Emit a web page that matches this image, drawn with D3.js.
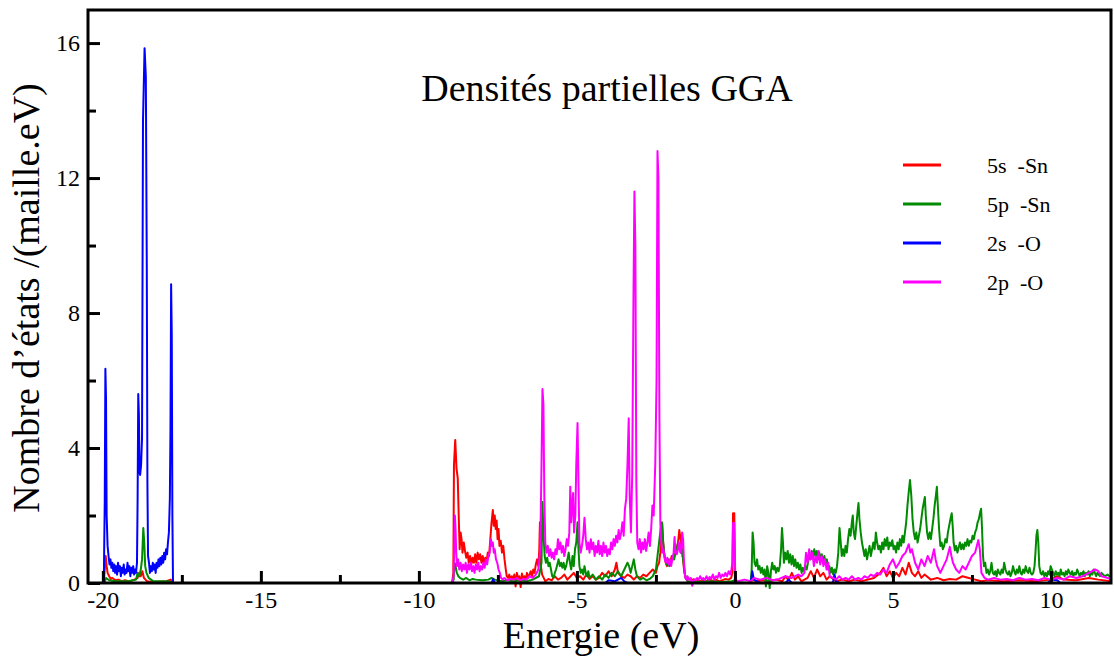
<!DOCTYPE html>
<html>
<head>
<meta charset="utf-8">
<title>Densités partielles GGA</title>
<style>
  body { margin: 0; background: #fff; }
  text { font-family: "Liberation Serif", "Times New Roman", serif; fill: #000; }
</style>
</head>
<body>
<script src="https://d3js.org/d3.v7.min.js"></script>
<svg width="1114" height="661" id="mainsvg"></svg>
<script>
// partial DOS, [energy (eV), states/(cell.eV)]
const dos5sSn = [
  [-20.45,0],[-19.97,0],[-19.94,0.4],[-19.91,0.8],[-19.88,0.5],[-19.85,0.3],[-19.80,0.2],[-19.75,0.12],[-19.70,0.15],[-19.60,0.08],
  [-19.50,0.1],[-19.40,0.05],[-19.30,0.08],[-19.20,0.05],[-19.10,0.07],[-19.00,0.1],[-18.90,0.15],[-18.85,0.3],[-18.80,0.2],[-18.75,0.35],
  [-18.70,0.15],[-18.65,0.1],[-18.60,0.05],[-18.40,0.03],[-18.00,0.05],[-17.85,0.1],[-17.80,0],
  [-8.95,0],[-8.91,0.3],[-8.89,3.5],[-8.85,4.24],[-8.81,3.4],[-8.77,3.1],[-8.74,2.0],[-8.71,1.0],[-8.68,1.5],[-8.65,1.3],
  [-8.62,0.9],[-8.58,1.2],[-8.54,0.95],[-8.50,0.75],[-8.46,0.9],[-8.42,0.6],[-8.38,0.8],[-8.34,0.55],[-8.30,0.75],[-8.26,0.6],
  [-8.22,0.85],[-8.18,0.6],[-8.14,0.9],[-8.10,0.7],[-8.06,0.85],[-8.02,0.6],[-7.98,0.8],[-7.94,0.55],[-7.90,0.75],[-7.86,0.6],
  [-7.82,0.9],[-7.78,0.8],[-7.74,1.3],[-7.70,1.8],[-7.66,2.16],[-7.63,1.7],[-7.60,2.0],[-7.57,1.6],[-7.54,1.85],[-7.51,1.3],
  [-7.48,1.6],[-7.45,1.1],[-7.41,1.25],[-7.37,0.9],[-7.33,1.1],[-7.29,0.7],[-7.25,0.4],[-7.22,0.2],[-7.18,0.15],[-7.14,0.25],
  [-7.10,0.1],[-7.06,0.2],[-7.02,0.12],[-6.98,0.25],[-6.94,-0.1],[-6.90,0.3],[-6.86,0.15],[-6.82,0.2],[-6.78,-0.12],[-6.74,0.28],
  [-6.70,0.12],[-6.66,0.2],[-6.62,0.1],[-6.58,0.3],[-6.54,0.15],[-6.50,0.25],[-6.46,0.35],[-6.42,0.2],[-6.38,0.4],[-6.34,0.3],
  [-6.30,0.55],[-6.26,0.7],[-6.22,0.5],[-6.19,1.0],[-6.17,1.8],[-6.14,0.5],[-6.10,0.25],[-6.05,0.15],[-6.00,0.05],[-5.90,0.12],
  [-5.80,0.08],[-5.70,0.2],[-5.60,0.1],[-5.50,0.15],[-5.40,0.25],[-5.30,0.1],[-5.20,0.2],[-5.10,0.3],[-5.00,0.15],[-4.90,0.2],
  [-4.80,0.1],[-4.70,0.25],[-4.60,0.12],[-4.50,0.2],[-4.40,0.1],[-4.30,0.15],[-4.20,0.3],[-4.10,0.2],[-4.00,0.35],[-3.90,0.2],
  [-3.80,0.4],[-3.75,0.6],[-3.70,0.3],[-3.60,0.2],[-3.50,0.15],[-3.40,0.25],[-3.30,0.2],[-3.20,0.1],[-3.10,0.2],[-3.00,0.15],
  [-2.90,0.25],[-2.80,0.2],[-2.70,0.3],[-2.60,0.4],[-2.50,0.3],[-2.45,0.5],[-2.40,0.6],[-2.36,0.9],[-2.33,1.5],[-2.30,1.78],
  [-2.27,1.2],[-2.23,0.8],[-2.19,0.6],[-2.15,0.5],[-2.10,0.7],[-2.05,0.6],[-2.00,0.8],[-1.95,0.7],[-1.90,0.9],[-1.85,1.0],
  [-1.80,1.2],[-1.76,1.57],[-1.72,1.3],[-1.68,1.0],[-1.64,0.7],[-1.60,0.3],[-1.55,0.15],[-1.50,0.1],[-1.40,0.12],[-1.30,0.08],
  [-1.20,0.1],[-1.10,0.05],[-1.00,0.08],[-0.90,0.05],[-0.80,0.1],[-0.70,0.06],[-0.60,0.1],[-0.50,0.05],[-0.40,0.08],[-0.30,0.12],
  [-0.20,0.1],[-0.12,0.15],[-0.08,0.3],[-0.06,2.07],[-0.02,2.07],[0.00,0.3],[0.04,0.05],[0.10,0],[0.50,0],[0.55,0.1],
  [0.70,0.05],[0.90,0.08],[1.10,0.05],[1.30,0.1],[1.50,0.05],[1.60,0.2],[1.70,0.08],[1.80,0.3],[1.90,0.1],[2.00,0.2],
  [2.10,0.05],[2.30,0.15],[2.40,0.35],[2.50,0.15],[2.60,0.4],[2.70,0.2],[2.80,0.3],[2.90,0.1],[3.00,0.2],[3.20,0.05],
  [3.40,0.1],[3.60,0.05],[3.80,0.1],[4.00,0.05],[4.20,0.1],[4.40,0.15],[4.60,0.3],[4.70,0.45],[4.80,0.2],[4.90,0.35],
  [5.00,0.15],[5.10,0.3],[5.20,0.2],[5.30,0.45],[5.40,0.25],[5.50,0.6],[5.60,0.3],[5.70,0.2],[5.80,0.35],[5.90,0.15],
  [6.00,0.25],[6.20,0.1],[6.40,0.15],[6.60,0.08],[6.80,0.12],[7.00,0.1],[7.20,0.2],[7.40,0.15],[7.60,0.1],[7.80,0.05],
  [8.00,0.08],[8.50,0.05],[9.00,0.08],[9.50,0.05],[10.00,0.1],[10.20,0.2],[10.40,0.1],[10.80,0.08],[11.20,0.15],[11.50,0.1],
  [11.90,0.05]
];

const dos5pSn = [
  [-20.45,0],[-19.95,0],[-19.90,0.15],[-19.80,0.08],[-19.60,0.05],[-19.20,0.05],[-18.95,0.1],[-18.90,0.3],[-18.85,0.2],[-18.80,0.4],
  [-18.76,0.7],[-18.72,1.63],[-18.69,1.2],[-18.66,0.5],[-18.62,0.3],[-18.55,0.15],[-18.40,0.05],[-17.90,0.05],[-17.80,0],
  [-8.95,0],[-8.90,0.1],[-8.87,0.6],[-8.84,0.5],[-8.80,0.3],[-8.75,0.2],[-8.70,0.15],[-8.60,0.1],[-8.50,0.15],[-8.40,0.08],
  [-8.30,0.12],[-8.20,0.1],[-8.00,0.08],[-7.80,0.1],[-7.70,0.15],[-7.60,0.1],[-7.40,0.05],[-7.20,0.08],[-7.00,0.05],[-6.80,0.08],
  [-6.60,0.05],[-6.40,0.1],[-6.20,0.2],[-6.12,0.6],[-6.09,2.4],[-6.06,1.5],[-6.02,0.8],[-5.98,0.6],[-5.94,0.75],[-5.90,0.5],
  [-5.86,0.6],[-5.82,0.4],[-5.78,0.2],[-5.74,0.15],[-5.70,0.3],[-5.66,0.4],[-5.62,0.55],[-5.58,0.7],[-5.54,0.5],[-5.50,0.6],
  [-5.46,0.45],[-5.42,0.6],[-5.38,0.4],[-5.34,0.5],[-5.30,0.7],[-5.26,0.9],[-5.22,0.6],[-5.18,0.4],[-5.14,0.8],[-5.10,0.5],
  [-5.06,1.0],[-5.02,1.2],[-4.98,1.8],[-4.95,1.0],[-4.92,0.5],[-4.88,0.3],[-4.84,0.4],[-4.80,0.25],[-4.76,0.5],[-4.72,0.3],
  [-4.68,0.2],[-4.64,0.35],[-4.60,0.15],[-4.50,0.25],[-4.40,0.1],[-4.30,0.2],[-4.20,0.1],[-4.10,0.25],[-4.00,0.15],[-3.90,0.3],
  [-3.80,0.2],[-3.70,0.35],[-3.60,0.2],[-3.50,0.4],[-3.40,0.6],[-3.35,0.5],[-3.30,0.3],[-3.25,0.5],[-3.20,0.7],[-3.15,0.4],
  [-3.10,0.2],[-3.00,0.1],[-2.90,0.15],[-2.80,0.08],[-2.70,0.12],[-2.60,0.2],[-2.50,0.4],[-2.45,0.8],[-2.40,1.2],[-2.35,1.6],
  [-2.31,1.8],[-2.28,1.3],[-2.24,0.9],[-2.20,0.7],[-2.16,0.55],[-2.12,0.7],[-2.08,0.5],[-2.04,0.6],[-2.00,0.7],[-1.96,0.8],
  [-1.92,0.7],[-1.88,0.9],[-1.84,1.0],[-1.80,1.2],[-1.76,1.1],[-1.72,0.9],[-1.68,1.0],[-1.64,0.7],[-1.60,0.4],[-1.56,0.15],
  [-1.50,0.05],[-1.20,0.03],[-0.80,0.05],[-0.40,0.03],[-0.10,0.05],[0.00,0.08],[0.10,0.02],[0.45,0],[0.50,0.05],[0.53,0.4],
  [0.56,1.5],[0.59,1.2],[0.62,0.6],[0.66,0.5],[0.70,0.7],[0.74,0.4],[0.78,0.5],[0.82,0.3],[0.86,0.45],[0.90,0.25],
  [0.94,0.4],[0.98,-0.1],[1.02,0.5],[1.06,0.3],[1.10,-0.15],[1.14,0.35],[1.18,0.6],[1.22,0.4],[1.26,0.5],[1.30,0.3],
  [1.34,0.45],[1.38,0.35],[1.42,0.5],[1.46,1.0],[1.49,1.63],[1.52,1.2],[1.55,0.6],[1.59,0.9],[1.63,0.7],[1.67,0.95],
  [1.71,0.6],[1.75,0.85],[1.79,0.55],[1.83,0.8],[1.87,0.5],[1.91,0.7],[1.95,0.45],[1.99,0.6],[2.03,0.4],[2.07,0.55],
  [2.11,0.3],[2.15,0.45],[2.19,0.35],[2.23,0.5],[2.27,0.4],[2.31,0.6],[2.35,0.8],[2.39,0.7],[2.43,0.95],[2.47,0.75],
  [2.51,1.0],[2.55,0.8],[2.59,0.95],[2.63,0.7],[2.67,0.9],[2.71,0.75],[2.75,0.85],[2.79,0.6],[2.83,0.8],[2.87,0.55],
  [2.91,0.7],[2.95,0.4],[2.99,0.5],[3.03,0.3],[3.07,0.45],[3.11,0.25],[3.15,0.4],[3.19,0.3],[3.23,0.5],[3.27,0.9],
  [3.31,1.63],[3.34,1.3],[3.38,0.8],[3.42,1.0],[3.46,0.8],[3.50,1.1],[3.54,0.9],[3.58,1.3],[3.62,1.6],[3.66,1.4],
  [3.70,1.8],[3.73,2.0],[3.76,1.5],[3.80,1.3],[3.84,1.7],[3.88,2.1],[3.91,2.37],[3.94,1.9],[3.98,1.5],[4.02,1.2],
  [4.06,1.0],[4.10,0.8],[4.14,1.0],[4.18,0.7],[4.22,0.9],[4.26,1.1],[4.30,0.8],[4.34,1.0],[4.38,1.2],[4.42,1.0],
  [4.46,1.5],[4.50,1.2],[4.54,1.0],[4.58,1.1],[4.62,0.9],[4.66,1.2],[4.70,1.0],[4.74,1.3],[4.78,1.1],[4.82,1.35],
  [4.86,1.0],[4.90,1.2],[4.94,1.1],[4.98,1.27],[5.02,1.0],[5.06,1.1],[5.10,0.9],[5.14,1.2],[5.18,1.0],[5.22,1.3],
  [5.26,1.1],[5.30,1.4],[5.34,1.2],[5.38,1.5],[5.42,1.8],[5.46,2.3],[5.50,2.7],[5.54,3.05],[5.58,2.6],[5.62,1.9],
  [5.66,1.5],[5.70,1.3],[5.74,1.5],[5.78,1.2],[5.82,1.4],[5.86,1.6],[5.90,1.9],[5.94,2.2],[5.98,2.4],[6.01,2.55],
  [6.04,2.0],[6.08,1.5],[6.12,1.3],[6.16,1.5],[6.20,1.3],[6.24,1.6],[6.28,1.9],[6.32,2.3],[6.36,2.6],[6.39,2.85],
  [6.42,2.3],[6.46,1.6],[6.50,1.1],[6.54,1.2],[6.58,1.0],[6.62,1.1],[6.66,1.3],[6.70,1.2],[6.74,1.5],[6.78,1.7],
  [6.82,1.9],[6.86,2.07],[6.89,1.7],[6.92,1.2],[6.96,0.97],[7.00,1.1],[7.04,0.9],[7.08,1.05],[7.12,1.2],[7.16,1.0],
  [7.20,1.15],[7.24,1.0],[7.28,1.2],[7.32,1.1],[7.36,1.3],[7.40,1.1],[7.44,1.25],[7.48,1.2],[7.52,1.4],[7.56,1.3],
  [7.60,1.5],[7.64,1.6],[7.68,1.8],[7.72,1.9],[7.76,2.1],[7.79,2.2],[7.82,1.6],[7.85,0.8],[7.88,0.5],[7.92,0.6],
  [7.96,0.3],[8.00,0.4],[8.04,0.25],[8.08,0.35],[8.12,0.6],[8.16,0.3],[8.20,0.25],[8.24,0.35],[8.28,0.2],[8.32,0.4],
  [8.36,0.3],[8.40,0.25],[8.44,0.4],[8.48,0.3],[8.52,0.6],[8.56,0.4],[8.60,0.3],[8.64,0.25],[8.68,0.35],[8.72,0.2],
  [8.76,0.3],[8.80,0.5],[8.84,0.35],[8.88,0.25],[8.92,0.4],[8.96,0.3],[9.00,0.5],[9.04,0.3],[9.08,0.25],[9.12,0.4],
  [9.16,0.3],[9.20,0.5],[9.24,0.35],[9.28,0.3],[9.32,0.45],[9.36,0.3],[9.40,0.25],[9.44,0.3],[9.48,0.5],[9.51,0.9],
  [9.54,1.4],[9.57,1.57],[9.60,1.2],[9.63,0.5],[9.67,0.3],[9.71,0.25],[9.75,0.35],[9.79,0.2],[9.83,0.3],[9.87,0.2],
  [9.91,0.35],[9.95,0.25],[9.99,0.5],[10.03,0.4],[10.07,0.3],[10.11,0.2],[10.15,0.35],[10.19,0.25],[10.23,0.3],[10.27,0.2],
  [10.31,0.4],[10.35,0.25],[10.39,0.3],[10.43,0.2],[10.47,0.35],[10.51,0.25],[10.55,0.4],[10.59,0.3],[10.63,0.25],[10.67,0.35],
  [10.71,0.2],[10.75,0.3],[10.79,0.25],[10.83,0.4],[10.87,0.3],[10.91,0.2],[10.95,0.3],[10.99,0.25],[11.03,0.35],[11.07,0.2],
  [11.11,0.3],[11.15,0.25],[11.19,0.35],[11.23,0.2],[11.27,0.3],[11.31,0.25],[11.35,0.4],[11.39,0.3],[11.43,0.2],[11.47,0.3],
  [11.51,0.25],[11.55,0.2],[11.60,0.3],[11.70,0.2],[11.80,0.25],[11.90,0.15]
];

const dos2sO = [
  [-20.45,0],[-20.00,0],[-19.97,0.05],[-19.94,2.4],[-19.92,6.35],[-19.90,5.5],[-19.88,2.0],[-19.85,1.1],[-19.82,0.8],[-19.79,0.55],
  [-19.76,0.7],[-19.73,0.45],[-19.70,0.6],[-19.67,0.35],[-19.64,0.55],[-19.61,0.3],[-19.58,0.5],[-19.55,0.25],[-19.52,0.6],[-19.49,0.35],
  [-19.46,0.5],[-19.43,0.2],[-19.40,0.45],[-19.37,0.3],[-19.34,0.55],[-19.31,0.25],[-19.28,0.4],[-19.25,0.3],[-19.22,0.6],[-19.19,0.35],
  [-19.16,0.5],[-19.13,0.2],[-19.10,0.45],[-19.07,0.3],[-19.04,0.5],[-19.01,0.25],[-18.98,0.4],[-18.95,0.3],[-18.92,0.6],[-18.90,2.5],
  [-18.88,5.6],[-18.86,5.0],[-18.84,3.3],[-18.82,3.2],[-18.79,3.5],[-18.76,4.3],[-18.73,13.7],[-18.68,15.85],[-18.64,15.0],[-18.61,9.4],
  [-18.59,3.0],[-18.57,0.8],[-18.54,0.6],[-18.51,0.3],[-18.48,0.5],[-18.45,0.35],[-18.42,0.6],[-18.39,0.4],[-18.36,0.55],[-18.33,0.3],
  [-18.30,0.6],[-18.27,0.45],[-18.24,0.7],[-18.21,0.5],[-18.18,0.75],[-18.15,0.55],[-18.12,0.8],[-18.09,0.6],[-18.06,0.9],[-18.03,0.7],
  [-18.00,1.0],[-17.97,0.85],[-17.94,1.2],[-17.91,1.5],[-17.88,2.5],[-17.86,4.6],[-17.84,8.85],[-17.82,7.4],[-17.80,2.0],[-17.78,0],
  [-7.70,0],[-7.65,0.12],[-7.60,0],[-4.10,0],[-4.00,0.08],[-3.80,0.05],[-3.60,0.15],[-3.50,0.05],[-3.40,0],[0.50,0],
  [0.55,0.35],[0.60,0.1],[0.70,0.05],[0.80,0],[1.60,0],[1.70,0.1],[1.80,0],[3.10,0],[3.15,0.25],[3.20,0.05],
  [3.30,0],[9.90,0],[10.00,0.1],[10.20,0.08],[10.30,0],[11.90,0]
];

const dos2pO = [
  [-20.45,0],[-8.95,0],[-8.90,0.2],[-8.88,1.2],[-8.86,2.0],[-8.84,1.6],[-8.82,0.9],[-8.79,0.5],[-8.76,0.7],[-8.72,0.4],
  [-8.68,0.6],[-8.64,0.35],[-8.60,0.55],[-8.56,0.4],[-8.52,0.6],[-8.48,0.3],[-8.44,0.55],[-8.40,0.4],[-8.36,0.6],[-8.32,0.35],
  [-8.28,0.5],[-8.24,0.3],[-8.20,0.55],[-8.16,0.4],[-8.12,0.6],[-8.08,0.35],[-8.04,0.5],[-8.00,0.4],[-7.96,0.6],[-7.92,0.45],
  [-7.88,0.7],[-7.84,0.55],[-7.80,0.8],[-7.76,0.9],[-7.72,1.3],[-7.69,1.1],[-7.66,1.2],[-7.63,0.9],[-7.60,1.0],[-7.56,0.7],
  [-7.52,0.6],[-7.48,0.4],[-7.44,0.3],[-7.40,0.15],[-7.35,0.1],[-7.30,0.15],[-7.20,0.08],[-7.10,0.12],[-7.00,0.1],[-6.90,0.15],
  [-6.80,0.08],[-6.70,0.12],[-6.60,0.1],[-6.50,0.2],[-6.40,0.15],[-6.30,0.25],[-6.22,0.4],[-6.16,1.0],[-6.12,3.5],[-6.09,5.75],
  [-6.06,5.3],[-6.03,2.5],[-6.00,1.2],[-5.96,0.9],[-5.92,1.1],[-5.88,0.8],[-5.84,1.0],[-5.80,0.75],[-5.76,0.9],[-5.72,0.7],
  [-5.68,1.0],[-5.64,0.85],[-5.60,1.3],[-5.56,1.0],[-5.52,1.2],[-5.48,0.9],[-5.44,1.1],[-5.40,0.8],[-5.36,1.0],[-5.32,1.3],
  [-5.28,1.1],[-5.24,1.5],[-5.21,2.85],[-5.18,1.8],[-5.15,2.3],[-5.12,2.67],[-5.09,1.5],[-5.05,2.0],[-5.02,3.5],[-4.98,4.74],
  [-4.95,3.0],[-4.92,1.2],[-4.88,0.9],[-4.84,1.1],[-4.80,1.4],[-4.76,1.93],[-4.72,1.3],[-4.68,1.0],[-4.64,1.2],[-4.60,0.9],
  [-4.56,1.3],[-4.52,1.0],[-4.48,1.2],[-4.44,0.8],[-4.40,1.1],[-4.36,0.9],[-4.32,1.25],[-4.28,0.85],[-4.24,1.1],[-4.20,0.8],
  [-4.16,1.2],[-4.12,0.9],[-4.08,1.1],[-4.04,0.8],[-4.00,1.0],[-3.96,0.85],[-3.92,1.2],[-3.88,1.0],[-3.84,1.3],[-3.80,1.1],
  [-3.76,1.4],[-3.72,1.2],[-3.68,1.57],[-3.64,1.3],[-3.60,1.5],[-3.56,1.8],[-3.52,1.4],[-3.48,2.2],[-3.44,2.5],[-3.40,3.5],
  [-3.36,4.88],[-3.33,2.6],[-3.29,1.5],[-3.25,3.2],[-3.21,8.5],[-3.18,11.6],[-3.15,10.0],[-3.12,3.0],[-3.09,1.2],[-3.05,1.0],
  [-3.01,1.3],[-2.97,0.9],[-2.93,1.2],[-2.89,1.0],[-2.85,1.3],[-2.81,0.95],[-2.77,1.2],[-2.73,1.5],[-2.69,1.1],[-2.65,1.6],
  [-2.61,2.3],[-2.57,2.0],[-2.52,3.55],[-2.48,6.0],[-2.45,12.8],[-2.42,12.0],[-2.39,5.0],[-2.36,1.8],[-2.33,1.2],[-2.30,0.9],
  [-2.26,1.0],[-2.22,0.7],[-2.18,0.6],[-2.14,0.75],[-2.10,0.55],[-2.06,0.7],[-2.02,0.5],[-1.98,0.7],[-1.94,0.9],[-1.91,1.36],
  [-1.88,0.9],[-1.84,0.85],[-1.80,1.0],[-1.77,1.2],[-1.74,1.0],[-1.71,0.9],[-1.67,1.5],[-1.64,1.3],[-1.61,0.6],[-1.57,0.15],
  [-1.53,0.1],[-1.50,0.2],[-1.45,0.1],[-1.40,0.15],[-1.35,-0.08],[-1.30,0.12],[-1.25,0.08],[-1.20,0.15],[-1.15,0.1],[-1.10,0.2],
  [-1.05,0.1],[-1.00,0.15],[-0.95,0.08],[-0.90,0.2],[-0.85,0.1],[-0.80,0.18],[-0.75,0.12],[-0.70,0.25],[-0.65,0.1],[-0.60,0.2],
  [-0.55,0.15],[-0.50,0.3],[-0.45,0.15],[-0.40,0.25],[-0.35,0.2],[-0.30,0.3],[-0.25,0.2],[-0.20,0.35],[-0.15,0.25],[-0.11,0.4],
  [-0.08,0.6],[-0.06,1.78],[-0.02,1.78],[0.01,0.3],[0.05,0.05],[0.10,0.05],[0.30,0.1],[0.50,0.05],[0.60,0.15],[0.80,0.1],
  [1.00,0.15],[1.20,0.08],[1.40,0.12],[1.60,0.2],[1.80,0.15],[2.00,0.25],[2.10,0.2],[2.20,0.3],[2.25,0.9],[2.30,0.6],
  [2.35,1.0],[2.40,0.7],[2.45,0.9],[2.50,0.5],[2.55,0.8],[2.60,0.6],[2.65,0.95],[2.70,0.55],[2.75,0.8],[2.80,0.5],
  [2.85,0.7],[2.90,0.4],[2.95,0.6],[3.00,0.2],[3.10,0.15],[3.20,0.1],[3.30,0.2],[3.40,0.1],[3.50,0.15],[3.60,0.1],
  [3.70,0.2],[3.80,0.1],[3.90,0.15],[4.00,0.1],[4.10,0.2],[4.20,0.15],[4.30,0.25],[4.40,0.2],[4.50,0.3],[4.60,0.25],
  [4.70,0.4],[4.80,0.3],[4.90,0.55],[5.00,0.7],[5.10,0.45],[5.20,0.6],[5.30,0.8],[5.40,0.9],[5.50,1.15],[5.55,0.9],
  [5.60,1.0],[5.70,0.6],[5.80,0.4],[5.90,0.7],[6.00,0.5],[6.10,0.8],[6.20,0.6],[6.30,1.0],[6.35,0.7],[6.40,0.5],
  [6.50,0.3],[6.60,0.5],[6.70,0.7],[6.80,1.07],[6.85,0.8],[6.90,0.6],[7.00,0.4],[7.10,0.3],[7.20,0.5],[7.30,0.4],
  [7.40,0.6],[7.50,0.8],[7.60,0.9],[7.70,1.27],[7.75,1.0],[7.80,0.3],[7.90,0.15],[8.00,0.1],[8.20,0.15],[8.40,0.1],
  [8.60,0.12],[8.80,0.08],[9.00,0.15],[9.20,0.1],[9.40,0.12],[9.60,0.08],[9.80,0.15],[10.00,0.1],[10.20,0.15],[10.40,0.1],
  [10.60,0.2],[10.80,0.15],[11.00,0.2],[11.20,0.3],[11.40,0.4],[11.50,0.35],[11.60,0.2],[11.80,0.15],[11.90,0.1]
];

const seriesData = [dos5sSn, dos5pSn, dos2sO, dos2pO];
const seriesNames = ["5s  -Sn", "5p  -Sn", "2s  -O", "2p  -O"];
const seriesColors = ["#ff0000", "#008b00", "#0000ff", "#ff00ff"];

const xMajorTicks = [-20, -15, -10, -5, 0, 5, 10];
const xMinorTicks = [-17.5, -12.5, -7.5, -2.5, 2.5, 7.5];
const yMajorTicks = [0, 4, 8, 12, 16];
const yMinorTicks = [2, 6, 10, 14];

const svg = d3.select('#mainsvg');
const plotLeft = 88, plotRight = 1111, plotTop = 10, plotBottom = 583;

const x = d3.scaleLinear().domain([-20.47, 11.9]).range([plotLeft, plotRight]);
const y = d3.scaleLinear().domain([0, 16.98]).range([plotBottom, plotTop]);

svg.append("rect").attr("width", 1114).attr("height", 661).attr("fill", "#fff");

// curves (drawn in set order, magenta last)
const line = d3.line().x(d => x(d[0])).y(d => y(d[1]));
svg.append("g")
    .selectAll("path")
    .data(seriesData)
    .join("path")
    .attr("d", line)
    .attr("fill", "none")
    .attr("stroke", (d, i) => seriesColors[i])
    .attr("stroke-width", 2)
    .attr("stroke-linejoin", "round");

// frame
svg.append("rect")
    .attr("x", plotLeft).attr("y", plotTop)
    .attr("width", plotRight - plotLeft).attr("height", plotBottom - plotTop)
    .attr("fill", "none").attr("stroke", "#000").attr("stroke-width", 3);

// axes, ticks pointing inward; plain hyphen for negatives like the original
const plainNum = d => String(d);
function styleAxis(g, size) {
    g.select(".domain").remove();
    g.selectAll(".tick line").attr("stroke", "#000").attr("stroke-width", 3);
    g.selectAll(".tick text")
        .attr("font-family", '"Liberation Serif", "Times New Roman", serif')
        .attr("font-size", size).attr("fill", "#000");
}

svg.append("g").attr("transform", `translate(0,${plotBottom})`)
    .call(d3.axisBottom(x).tickValues(xMajorTicks).tickSize(-12).tickPadding(8).tickFormat(plainNum))
    .call(g => styleAxis(g, 24));
svg.append("g").attr("transform", `translate(0,${plotBottom})`)
    .call(d3.axisBottom(x).tickValues(xMinorTicks).tickSize(-8).tickFormat(""))
    .call(g => styleAxis(g, 24));

svg.append("g").attr("transform", `translate(${plotLeft},0)`)
    .call(d3.axisLeft(y).tickValues(yMajorTicks).tickSize(-12).tickPadding(8).tickFormat(plainNum))
    .call(g => styleAxis(g, 24));
svg.append("g").attr("transform", `translate(${plotLeft},0)`)
    .call(d3.axisLeft(y).tickValues(yMinorTicks).tickSize(-8).tickFormat(""))
    .call(g => styleAxis(g, 24));

// titles
svg.append("text")
    .attr("x", 607).attr("y", 101)
    .attr("text-anchor", "middle").attr("font-size", 38)
    .text("Densités partielles GGA");

svg.append("text")
    .attr("x", 601).attr("y", 648)
    .attr("text-anchor", "middle").attr("font-size", 38)
    .text("Energie (eV)");

svg.append("text")
    .attr("transform", "translate(39,298) rotate(-90)")
    .attr("text-anchor", "middle").attr("font-size", 38)
    .text("Nombre d’états /(maille.eV)");

// legend
const legend = svg.append("g")
    .selectAll("g")
    .data(seriesNames)
    .join("g")
    .attr("transform", (d, i) => `translate(903,${165 + i * 39})`);
legend.append("line")
    .attr("x1", 0).attr("x2", 38)
    .attr("stroke", (d, i) => seriesColors[i])
    .attr("stroke-width", 3);
legend.append("text")
    .attr("x", 84).attr("y", 8)
    .attr("font-size", 22)
    .style("white-space", "pre")
    .text(d => d);
</script>
</body>
</html>
